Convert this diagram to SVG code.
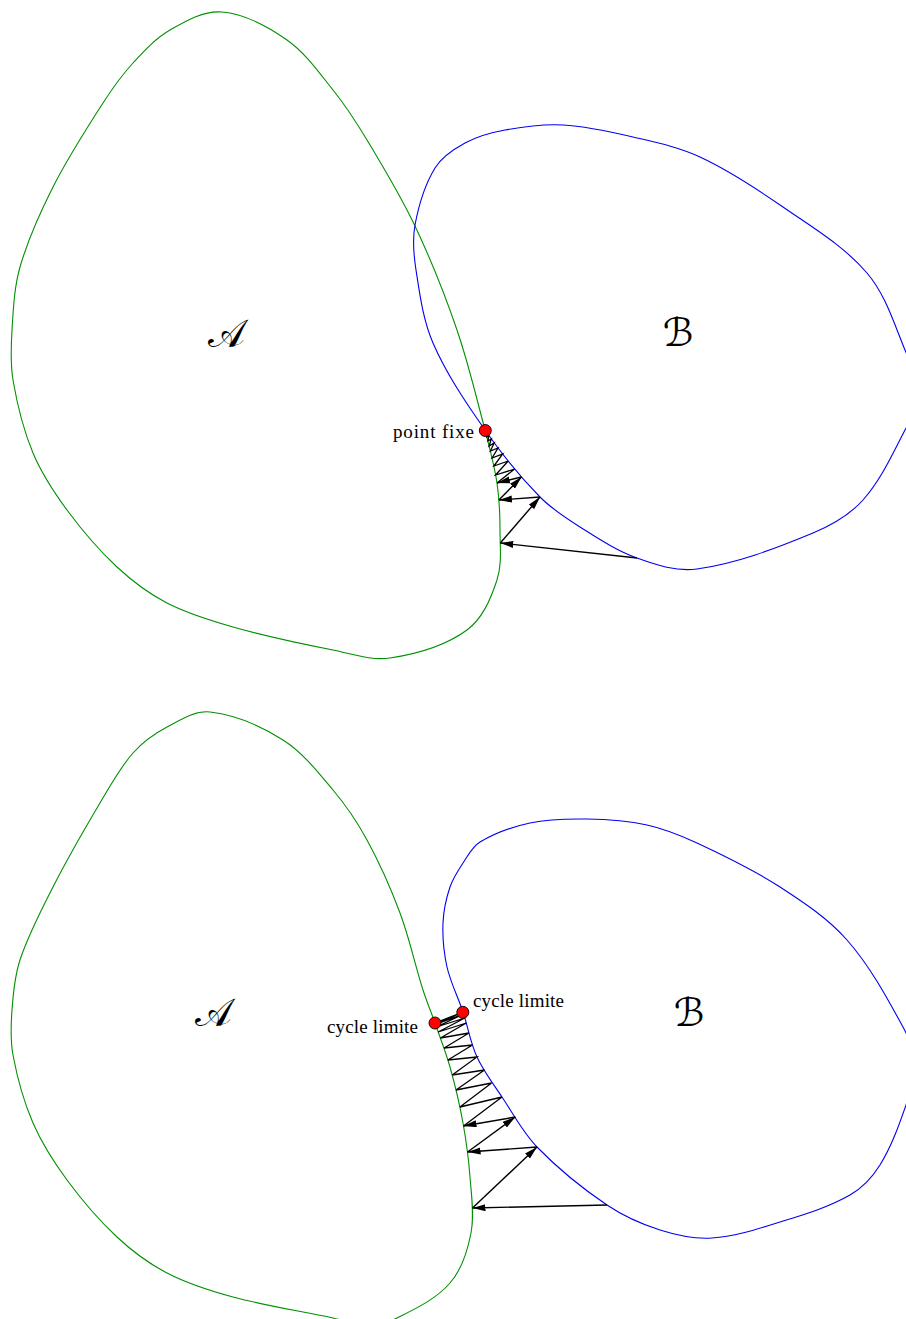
<svg xmlns="http://www.w3.org/2000/svg" width="906" height="1319" viewBox="0 0 906 1319">
<style>
.ca{fill:none;stroke:#009000;stroke-width:1.1}
.cb{fill:none;stroke:#0000f0;stroke-width:1.1}
.ar{fill:none;stroke:#000;stroke-width:1.4;marker-end:url(#ah)}
.zz{fill:none;stroke:#000;stroke-width:1.3;stroke-linejoin:miter}
.pt{fill:#ff0000;stroke:#000;stroke-width:0.9}
.lbl{font-family:"Liberation Serif","DejaVu Serif",serif;font-size:19px;fill:#000}
.set{font-family:"DejaVu Serif","DejaVu Sans","Liberation Serif",serif;font-size:39px;fill:#000}
</style>
<defs>
<marker id="ah" markerUnits="userSpaceOnUse" markerWidth="14" markerHeight="8" refX="13" refY="3.5" orient="auto">
<path d="M0,0 L13,3.5 L0,7 Z" fill="#000"/>
</marker>
</defs>

<g id="top-A">
<path class="ca" d="M222,12 C245.5,14 267.7,26.4 287,40 C305.5,53 318.9,72.3 333,90 C345.6,105.7 356.6,122.7 367,140 C384,168.1 400.9,196.3 415,226 C431,259.8 444.9,294.6 457,330 C468.2,362.7 476.2,396.5 485,430 C489.6,447.5 494.3,465.1 497,483 C499.3,498.5 500,514.3 500,530 C500,546.7 502.2,564.1 497,580 C490.9,598.5 482.7,618.5 467,630 C444.9,646.1 417,654 390,658 C371,660.8 351.8,653.7 333,650 C299.4,643.4 265.9,636.3 233,627 C210.5,620.6 187.8,613.8 167,603 C148.8,593.6 132,581 117,567 C98.5,549.8 82,530.3 67,510 C53.9,492.2 41.5,473.4 33,453 C23.3,429.7 17.2,404.9 13,380 C10.2,363.6 11,346.6 12,330 C13.3,308.9 14.2,287.4 20,267 C28,239.3 40,212.7 53,187 C67.7,157.9 85.3,130.4 103,103 C112,89 121.7,75.3 133,63 C144.2,50.8 155.7,38.2 170,30 C185.9,20.9 203.7,10.4 222,12 Z"/>
<text class="set" x="226" y="347" text-anchor="middle">𝒜</text>
</g>

<g id="top-B">
<path class="cb" d="M563,125 C586.6,126.3 610,131.6 633,137 C655.7,142.3 678.9,147.1 700,157 C729.3,170.7 756.5,188.6 783,207 C812.2,227.3 843.9,245.9 867,273 C885.6,294.8 894,323.6 905,350 C911,364.4 918,379.4 918,395 C918,407.5 910.8,419 905,430 C892.4,454.1 881.1,479.7 863,500 C849.7,514.9 831.4,525.3 813,533 C775.6,548.5 737.1,563.3 697,569 C676.9,571.9 656.1,564.9 637,558 C616.6,550.7 598.3,538.5 580,527 C565.9,518.1 551.7,508.9 540,497 C519.8,476.4 501.5,453.7 485,430 C465.7,402.3 446.4,374 433,343 C423.1,320.1 419.8,294.7 416,270 C413.7,255.2 412.3,239.7 415,225 C418.7,205.2 424.5,185.2 435,168 C441.8,156.9 453.6,149.2 465,143 C477.3,136.3 491.2,132.5 505,130 C524.1,126.5 543.6,123.9 563,125 Z"/>
<text class="set" x="678" y="346" text-anchor="middle">ℬ</text>
</g>

<g id="bottom-A">
<path class="ca" d="M210,712 C235.9,714.9 261,726 283,740 C302.9,752.6 317.8,772 333,790 C346,805.4 357.4,822.3 367,840 C379.8,863.4 390.7,888 400,913 C409.4,938.1 414.9,964.5 423,990 C426.5,1001.1 431.1,1012 435,1023 C440.1,1037.6 445.8,1052.1 450,1067 C455.2,1085.5 459.6,1104.1 463,1123 C466.2,1140.9 468.7,1158.9 470,1177 C471.4,1195.6 474.5,1214.7 471,1233 C467.6,1250.8 461.9,1269.4 450,1283 C436.1,1299 416,1308.6 397,1318 C387.2,1322.8 375.9,1325 365,1325 C354.1,1325 343.7,1320.3 333,1318 C299.7,1310.9 265.9,1305.9 233,1297 C210.4,1290.9 187.8,1283.8 167,1273 C148.8,1263.6 132,1251 117,1237 C98.5,1219.8 82,1200.3 67,1180 C53.9,1162.2 41.8,1143.3 33,1123 C23.6,1101.3 17.3,1078.2 13,1055 C10.3,1040.3 10.9,1025 12,1010 C13.2,993.2 14.7,976 20,960 C28.4,934.7 40.9,910.8 53,887 C67.6,858.4 83.6,830.5 100,803 C110.2,785.9 119.8,768 133,753 C142.4,742.3 154.4,733.7 167,727 C180.4,719.9 194.9,710.3 210,712 Z"/>
<text class="set" x="213" y="1026" text-anchor="middle">𝒜</text>
</g>

<g id="bottom-B">
<path class="cb" d="M587,819 C607.1,819.3 627.4,820.7 647,825 C664.3,828.8 680.9,835.5 697,843 C725.4,856.2 753.7,870 780,887 C803.9,902.5 828.2,918.6 847,940 C869.8,965.9 886.5,996.7 903,1027 C909.3,1038.7 914.5,1051.7 915,1065 C915.5,1078.7 910.5,1092.1 906,1105 C898.8,1125.6 891.5,1146.5 880,1165 C872.5,1177 862.3,1188 850,1195 C828.3,1207.4 803.9,1214.6 780,1222 C757.8,1228.9 735.2,1236.5 712,1238 C694.5,1239.2 676.7,1235.3 660,1230 C641.4,1224.1 623.2,1215.9 607,1205 C581.9,1188.1 558.1,1168.7 537,1147 C522.8,1132.4 513.3,1113.9 502,1097 C493.3,1083.9 483.6,1071.3 477,1057 C470.4,1042.7 468,1026.9 463,1012 C458,996.9 450.5,982.5 447,967 C443.8,952.6 442.4,937.7 443,923 C443.5,910.8 446.1,898.6 450,887 C452.9,878.4 458,870.6 463,863 C468,855.5 472.3,846.6 480,842 C495.3,832.9 512.6,826.7 530,823 C548.6,819 568,818.7 587,819 Z"/>
<text class="set" x="689" y="1026" text-anchor="middle">ℬ</text>
</g>

<g id="connectors">
<line class="ar" x1="637" y1="558" x2="500.3" y2="543"/>
<line class="ar" x1="500.3" y1="543" x2="540" y2="497"/>
<line class="ar" x1="540" y1="497" x2="498.9" y2="500"/>
<line class="ar" x1="498.9" y1="500" x2="521.5" y2="477"/>
<line class="ar" x1="521.5" y1="477" x2="497" y2="483"/>
<polyline class="zz" points="497,483 514.6,469 495.6,475 508.2,461 493.9,466 502.7,454 492.1,458 498,448 490.4,451 494.2,443 489.1,446 491.3,439 487.9,441 488.8,435.5 486.9,437 487,433 486.1,434 485.9,431.5 485.5,432 485,430"/>

<line class="ar" x1="607" y1="1205" x2="472.5" y2="1208"/>
<line class="ar" x1="472.5" y1="1208" x2="537" y2="1147"/>
<line class="ar" x1="537" y1="1147" x2="467.6" y2="1152"/>
<line class="ar" x1="467.6" y1="1152" x2="515.3" y2="1117"/>
<line class="ar" x1="515.3" y1="1117" x2="463.5" y2="1126"/>
<polyline class="zz" points="463.5,1126 502,1097 459.9,1107 491.6,1083 456,1090 484.5,1070 452.2,1075 477,1057 447.9,1060 472.5,1045 444.1,1048 469,1033 440.4,1038 466.3,1023 438.2,1032 464.8,1018 436.4,1027 463.6,1014 435.5,1024.5 463,1012 435,1023"/>
</g>

<g id="fixed-point">
<circle class="pt" cx="485.3" cy="430.5" r="6"/>
<text class="lbl" x="474" y="438" text-anchor="end" textLength="81" lengthAdjust="spacing">point fixe</text>
</g>

<g id="limit-cycle">
<circle class="pt" cx="435" cy="1023" r="6"/>
<circle class="pt" cx="462.8" cy="1012.3" r="6"/>
<text class="lbl" x="418" y="1033" text-anchor="end" textLength="91" lengthAdjust="spacing">cycle limite</text>
<text class="lbl" x="473" y="1007" textLength="91" lengthAdjust="spacing">cycle limite</text>
</g>
</svg>
